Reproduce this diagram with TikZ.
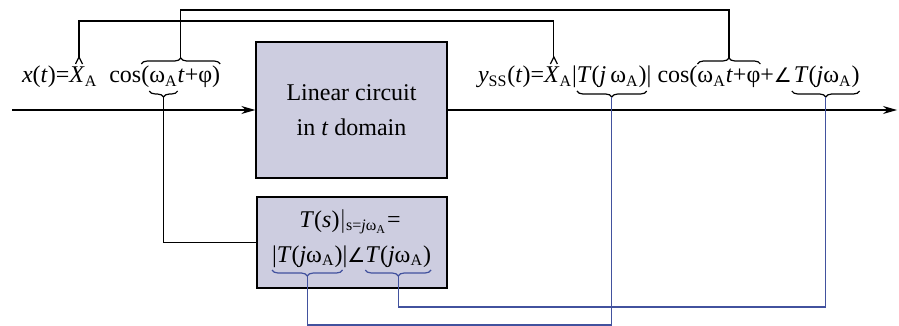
\documentclass[tikz,border=0pt]{standalone}
\usepackage{fontspec}
\setmainfont{Liberation Serif}
\newfontfamily\angfont{DejaVu Sans}
\usepackage{tikz}
\usetikzlibrary{arrows.meta,positioning,calc,decorations.pathreplacing}

\definecolor{boxfill}{RGB}{205,205,224}
\definecolor{linkblue}{RGB}{66,82,158}
\newcommand{\omA}{ω\textsubscript{A}}
\newcommand{\angsym}{{\angfont\fontsize{10}{10}\selectfont ∠}}

\begin{document}
\begin{tikzpicture}[x=0.5pt, y=-0.5pt,
        every node/.style={font=\fontsize{12}{17.5}\selectfont},
        txt/.style={inner sep=0pt, outer sep=0pt, anchor=base west, text height=8.5pt, text depth=3pt},
        block/.style={rectangle, draw=black, line width=0.7pt, fill=boxfill, inner sep=0pt, align=center},
        link/.style={line width=0.6pt},
        bluelink/.style={line width=0.6pt, draw=linkblue},
        arrow/.style={-{Stealth[length=7pt,width=4pt]}, line width=0.6pt},
        obrace/.style={decorate, decoration={brace, amplitude=3pt, raise=1pt}, line width=0.6pt},
        ubrace/.style={decorate, decoration={brace, mirror, amplitude=3pt, raise=1pt}, line width=0.6pt}
    ]
    \useasboundingbox (0,0) rectangle (899,326);

    % levels of the routing lines
    \coordinate (lvl1) at (0,10);
    \coordinate (lvl2) at (0,21);
    \coordinate (lvl3) at (0,307);
    \coordinate (lvl4) at (0,325);
    \coordinate (in) at (12,110);
    \coordinate (out) at (897,110);

    % Blocks
    \node[block, minimum width=95.5pt, minimum height=68pt] (lc) at (351.5,110) {Linear circuit\\in \textit{t} domain};
    \node[block, minimum width=95pt, minimum height=45.5pt] (tbox) at (352,242.5) {};

    % Input x(t)
    \node[txt] (xa) at (22,83) {\textit{x}(\textit{t})=};
    \node[txt] (xX) at (xa.base east) {\textit{X}};
    \node[txt] (xs) at (xX.base east) {\textsubscript{A}\hspace{3pt} cos\hspace{1pt}};
    \node[txt] (xp) at (xs.base east) {(};
    \node[txt] (xw) at (xp.base east) {\omA};
    \node[txt] (xr) at (xw.base east) {\textit{t}+φ)};

    % Output y_ss(t)
    \node[txt] (ya) at (478,83) {\textit{y}\textsubscript{SS}(\textit{t})=};
    \node[txt] (yX) at (ya.base east) {\textit{X}};
    \node[txt] (ys) at (yX.base east) {\textsubscript{A}|\hspace{1pt}};
    \node[txt] (yT) at (ys.base east) {\textit{T}(\textit{j}\,\omA)};
    \node[txt] (yd) at (yT.base east) {| cos(};
    \node[txt] (yw) at (yd.base east) {\omA\textit{t}+φ};
    \node[txt] (ye) at (yw.base east) {+\angsym};
    \node[txt] (yT2) at (ye.base east) {\hspace{1pt}\textit{T}(\textit{j}\omA)};

    % Text in the lower block
    \node[anchor=base, inner sep=0pt] (t1) at (350,227) {\textit{T}(\textit{s})$\big|$\textsubscript{s=\textit{j}\omA}=};
    \node[txt] (la) at (272,262) {|\textit{T}(\textit{j}\omA)};
    \node[txt] (lb) at (la.base east) {|\angsym};
    \node[txt] (lc2) at (lb.base east) {\textit{T}(\textit{j}\omA)};

    % Hats
    \coordinate (xht) at ($(xX.north)+(2,-9)$);
    \coordinate (yht) at ($(yX.north)+(2,-9)$);
    \draw[link] ($(xht)+(-3.5,7)$) -- (xht) -- ($(xht)+(3.5,7)$);
    \draw[link] ($(yht)+(-3.5,7)$) -- (yht) -- ($(yht)+(3.5,7)$);

    % Braces
    \draw[obrace] (xp.north west) -- (xr.north east);
    \draw[ubrace] (xw.south west) -- (xw.south east);
    \draw[obrace] (yw.north west) -- (yw.north east);
    \draw[ubrace] (yT.south west) -- (yT.south east);
    \draw[ubrace] (yT2.south west) -- (yT2.south east);
    \draw[ubrace, draw=linkblue] (la.south west) -- (la.south east);
    \draw[ubrace, draw=linkblue] (lc2.south west) -- (lc2.south east);

    \coordinate (xot) at ($(xp.north west)!0.5!(xr.north east)+(0,-8)$);
    \coordinate (xut) at ($(xw.south)+(0,8)$);
    \coordinate (yot) at ($(yw.north)+(0,-8)$);
    \coordinate (yut) at ($(yT.south)+(0,8)$);
    \coordinate (yut2) at ($(yT2.south)+(0,8)$);
    \coordinate (lat) at ($(la.south)+(0,8)$);
    \coordinate (lct) at ($(lc2.south)+(0,8)$);

    % Signal path
    \draw[arrow] (in) -- (lc.west);
    \draw[arrow] (lc.east) -- (out);

    % Connectors
    \draw[link] (xht) -- (xht |- lvl2) -| (yht);
    \draw[link] (xot) -- (xot |- lvl1) -| (yot);
    \draw[link] (xut) |- (tbox.west);
    \draw[bluelink] (yut) -- (yut |- lvl4) -| (lat);
    \draw[bluelink] (yut2) -- (yut2 |- lvl3) -| (lct);

\end{tikzpicture}
\end{document}
